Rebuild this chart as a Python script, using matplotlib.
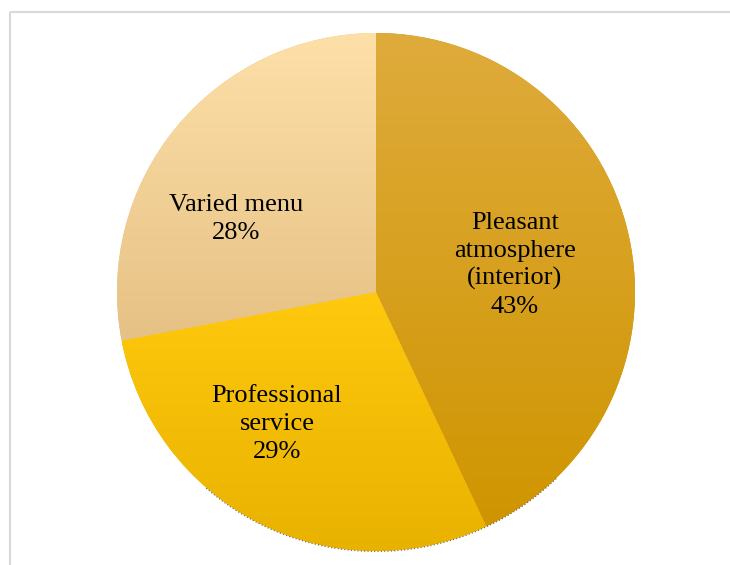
import matplotlib
matplotlib.use("Agg")
import matplotlib.pyplot as plt
import numpy as np
from matplotlib.colors import LinearSegmentedColormap

labels = ["Pleasant\natmosphere\n(interior)\n43%", "Professional\nservice\n29%", "Varied menu\n28%"]
values = [43, 29, 28]
top_colors = ["#dfab3c", "#ffc90e", "#fde0a8"]
bottom_colors = ["#cf9500", "#e8b200", "#e6c185"]
label_pos = [(515, 265), (277, 424), (236, 219)]  # pixel positions (from top)

W, H = 730, 565
fig = plt.figure(figsize=(W / 100, H / 100), dpi=100)
ax = fig.add_axes([0, 0, 1, 1])

cx, cy, r = 376, H - 292, 259
wedges, _ = ax.pie(values, startangle=90, counterclock=False, center=(cx, cy),
                   radius=r, colors=bottom_colors, frame=True,
                   wedgeprops=dict(linewidth=0))
ax.set_aspect("auto")

for w, tc, bc in zip(wedges, top_colors, bottom_colors):
    bb = w.get_path().get_extents(w.get_patch_transform())
    cmap = LinearSegmentedColormap.from_list("g", [bc, tc])
    grad = np.linspace(0, 1, 256).reshape(-1, 1)
    im = ax.imshow(grad, cmap=cmap, origin="lower", aspect="auto",
                   extent=[bb.x0, bb.x1, bb.y0, bb.y1], zorder=2)
    im.set_clip_path(w)

# faint dotted outline along the lower rim
th = np.radians(np.linspace(-46, -131, 200))
ax.plot(cx + (r + 0.5) * np.cos(th), cy + (r + 0.5) * np.sin(th), color="black",
        lw=0.8, ls=(0, (1, 2)), alpha=0.6, zorder=3)

for lab, (x, y) in zip(labels, label_pos):
    ax.text(x, H - y, lab, ha="center", va="center", fontsize=19,
            family="Liberation Serif", linespacing=1.33, color="black", zorder=5)

# frame lines
ax.plot([10, 10], [0, H - 12], color="#d9d9d9", lw=1.5, zorder=1, solid_capstyle="butt")
ax.plot([10, W], [H - 12, H - 12], color="#d9d9d9", lw=1.5, zorder=1, solid_capstyle="butt")

ax.set_xlim(0, W)
ax.set_ylim(0, H)
ax.axis("off")

fig.savefig("out.png", dpi=100)
